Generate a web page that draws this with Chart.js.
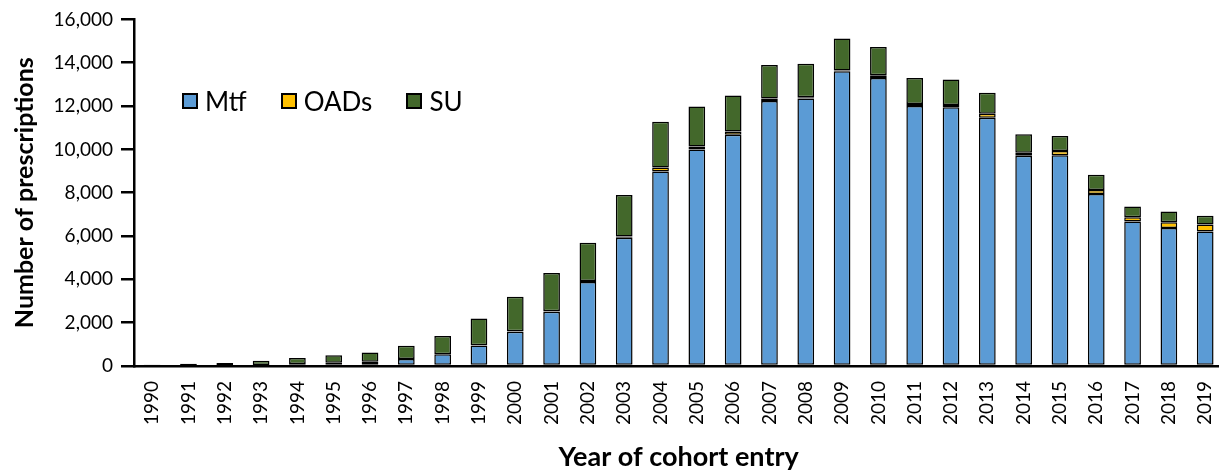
<!DOCTYPE html>
<html lang="en">
<head>
  <meta charset="UTF-8">
  <title>Prescriptions by year of cohort entry</title>
  <script src="https://cdn.jsdelivr.net/npm/chart.js"></script>
  <style>
    body {
      margin: 0;
      background: #fff;
      overflow: hidden;
      font-family: Lato, sans-serif;
    }
    #wrap {
      position: relative;
      width: 1243px;
      height: 470px;
    }
    #legend {
      position: absolute;
      left: 182px;
      top: 85px;
      display: flex;
      font-size: 26px;
      color: #000;
    }
    .item {
      display: flex;
      align-items: center;
      margin-right: 34px;
    }
    .box {
      width: 12px;
      height: 12px;
      border: 2px solid #000;
      margin-right: 7px;
    }
  </style>
</head>
<body>
  <div id="wrap">
    <canvas id="myChart"></canvas>
    <div id="legend"></div>
  </div>

  <script>
    const years = ['1990','1991','1992','1993','1994','1995','1996','1997','1998','1999',
                   '2000','2001','2002','2003','2004','2005','2006','2007','2008','2009',
                   '2010','2011','2012','2013','2014','2015','2016','2017','2018','2019'];

    const mtf  = [15, 20, 30, 50, 90, 150, 200, 320, 540, 950,
                  1580, 2500, 3880, 5920, 8980, 9990, 10670, 12230, 12350, 13610,
                  13300, 12000, 11950, 11460, 9700, 9730, 7940, 6670, 6370, 6210];
    const oads = [0, 0, 0, 0, 0, 0, 0, 0, 5, 10,
                  20, 30, 40, 60, 180, 140, 150, 120, 60, 30,
                  120, 100, 100, 190, 140, 200, 180, 200, 270, 320];
    const su   = [35, 80, 110, 190, 280, 350, 420, 610, 835, 1230,
                  1600, 1760, 1770, 1910, 2120, 1850, 1670, 1540, 1540, 1480,
                  1310, 1200, 1180, 960, 860, 690, 710, 490, 490, 410];

    const seriesNames  = ['Mtf', 'OADs', 'SU'];
    const seriesColors = ['#5B9BD5', '#FFC000', '#43682B'];
    const seriesData   = [mtf, oads, su];

    const datasets = seriesNames.map((name, i) => ({
      label: name,
      data: seriesData[i],
      backgroundColor: seriesColors[i],
      borderColor: '#000',
      borderWidth: 1.5,
      borderSkipped: false,
      barPercentage: 0.46,
      categoryPercentage: 1.0
    }));

    const ctx = document.getElementById('myChart').getContext('2d');
    const chart = new Chart(ctx, {
      type: 'bar',
      data: { labels: years, datasets: datasets },
      options: {
        responsive: true,
        maintainAspectRatio: false,
        animation: false,
        layout: { padding: { top: 10, right: 0, bottom: 0, left: 0 } },
        plugins: {
          legend: { display: false },
          tooltip: { enabled: false }
        },
        scales: {
          x: {
            stacked: true,
            grid: { drawOnChartArea: false, drawTicks: false },
            border: { color: '#000', width: 2.5 },
            ticks: {
              color: '#000',
              font: { family: 'Lato', size: 19 },
              maxRotation: 90,
              minRotation: 90,
              padding: 15,
              autoSkip: false
            },
            title: {
              display: true,
              text: 'Year of cohort entry',
              color: '#000',
              font: { family: 'Lato', size: 27, weight: 'bold' },
              padding: { top: 0, bottom: -3 }
            },
            afterFit: s => { s.height = 104; }
          },
          y: {
            stacked: true,
            min: 0,
            max: 16000,
            ticks: {
              stepSize: 2000,
              color: '#000',
              font: { family: 'Lato', size: 19 },
              padding: 8,
              callback: v => v.toLocaleString('en-US')
            },
            grid: {
              drawOnChartArea: false,
              drawTicks: true,
              tickLength: 13,
              color: '#000',
              lineWidth: 2.5
            },
            border: { color: '#000', width: 2.5 },
            title: {
              display: true,
              text: 'Number of prescriptions',
              color: '#000',
              font: { family: 'Lato', size: 25, weight: 'bold' },
              padding: { top: 10, bottom: 0 }
            },
            afterFit: s => { s.width = 134; }
          }
        }
      }
    });

    // legend drawn as html, sitting inside the plot area
    const legend = document.getElementById('legend');
    chart.data.datasets.forEach(ds => {
      const item = document.createElement('div');
      item.className = 'item';
      const box = document.createElement('div');
      box.className = 'box';
      box.style.background = ds.backgroundColor;
      item.appendChild(box);
      item.appendChild(document.createTextNode(ds.label));
      legend.appendChild(item);
    });
  </script>
</body>
</html>
